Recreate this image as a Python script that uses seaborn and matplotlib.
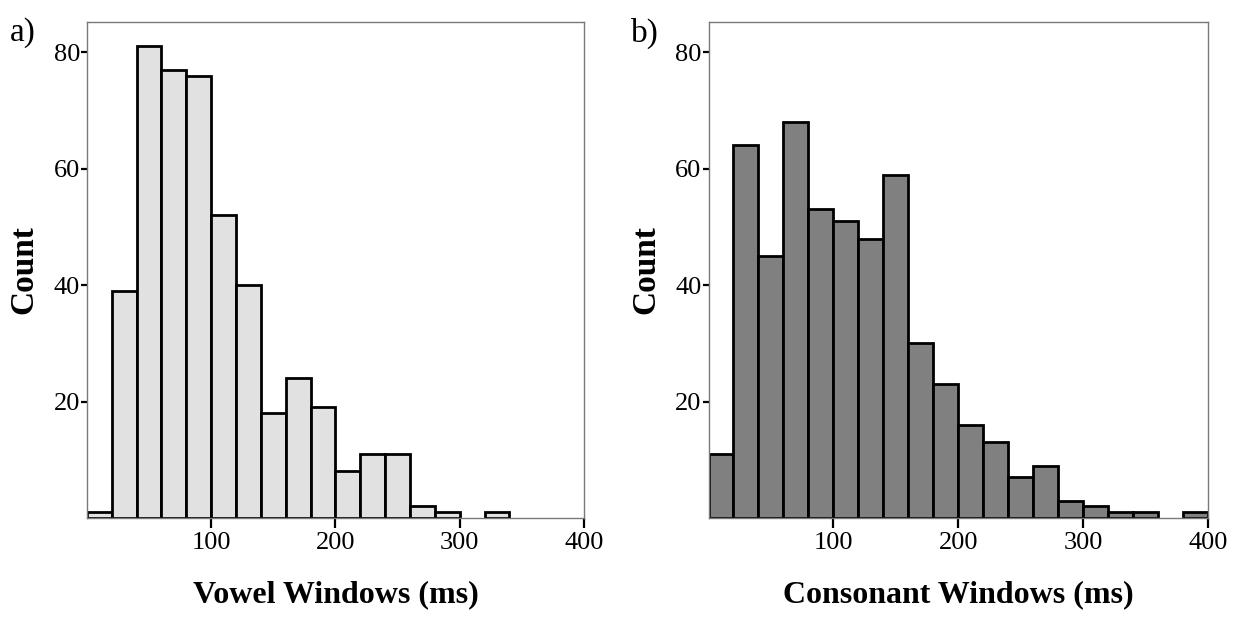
import numpy as np
import matplotlib
matplotlib.use("Agg")
import matplotlib.pyplot as plt
import seaborn as sns

# bin edges (ms) and counts
bin_edges = list(range(0, 420, 20))
bin_starts = bin_edges[:-1]
vowel_counts = [1, 39, 81, 77, 76, 52, 40, 18, 24, 19, 8, 11, 11, 2, 1, 0, 1, 0, 0, 0]
consonant_counts = [11, 64, 45, 68, 53, 51, 48, 59, 30, 23, 16, 13, 7, 9, 3, 2, 1, 1, 0, 1]

x_ticks = [100, 200, 300, 400]
y_ticks = [20, 40, 60, 80]

panels = [
    ("a)", "Vowel Windows (ms)", vowel_counts, "#e1e1e1", [0.0704, 0.1632, 0.4024, 0.8013]),
    ("b)", "Consonant Windows (ms)", consonant_counts, "#808080", [0.5737, 0.1632, 0.4045, 0.8013]),
]

sns.set_style("white")
plt.rcParams["font.family"] = ["Liberation Serif", "DejaVu Serif"]
plt.rcParams.update({"text.color": "black", "axes.labelcolor": "black",
                     "xtick.color": "black", "ytick.color": "black"})

fig = plt.figure(figsize=(12.35, 6.19), dpi=100)

for letter, xlabel, counts, color, rect in panels:
    ax = fig.add_axes(rect)
    centers = [s + 10 for s in bin_starts]
    sns.histplot(x=centers, weights=counts, bins=bin_edges, color=color, alpha=1,
                 edgecolor="black", linewidth=2.0, ax=ax)
    # drop empty bins so only the frame shows there
    for p in list(ax.patches):
        if p.get_height() == 0:
            p.remove()
    ax.set_xlim(0, 400)
    ax.set_ylim(0, 85.2)
    ax.set_xticks(x_ticks)
    ax.set_yticks(y_ticks)
    ax.tick_params(axis="x", direction="out", length=7, width=1.6, colors="black",
                   labelsize=19, pad=3, bottom=True)
    ax.tick_params(axis="y", direction="out", length=4, width=1.6, colors="black",
                   labelsize=19, pad=1, left=True)
    for s in ax.spines.values():
        s.set_color("#7a7a7a")
        s.set_linewidth(1.0)
    ax.set_xlabel(xlabel, fontsize=23, fontweight="bold", labelpad=19)
    ax.set_ylabel("Count", fontsize=24, fontweight="bold", labelpad=10)
    fig.text(rect[0] - 0.0625, 0.972, letter, fontsize=24, va="top", ha="left")

plt.savefig("out.png", dpi=100)
plt.close()
